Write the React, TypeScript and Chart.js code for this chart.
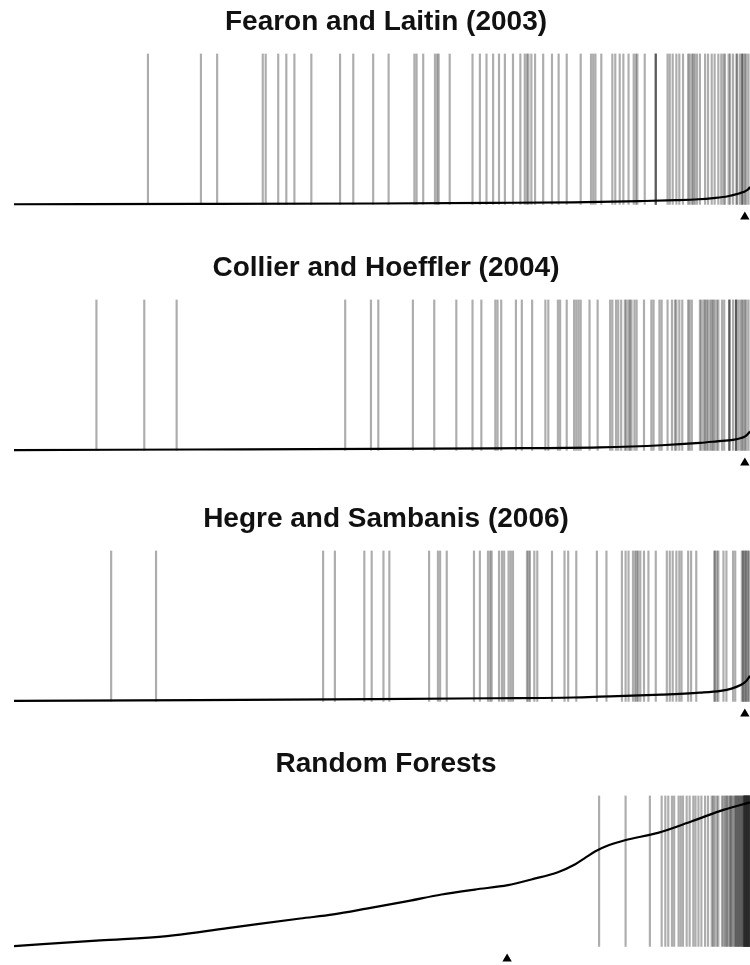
import React, { useEffect, useRef } from "react";
import { Chart, registerables } from "chart.js";

Chart.register(...registerables);

// Panel titles
const panelTitles = [
  "Fearon and Laitin (2003)",
  "Collier and Hoeffler (2004)",
  "Hegre and Sambanis (2006)",
  "Random Forests",
];

// Event (onset) positions, as percentile rank of sorted predicted probability (0-100)
const fearonEvents = [
  18.2, 25.4, 27.6, 33.8, 34.2, 35.9, 37.0, 38.1, 40.4, 44.3, 46.1, 48.8, 50.9, 54.4, 54.7, 55.6,
  57.2, 57.5, 57.7, 59.2, 62.3, 63.3, 64.2, 65.1, 65.9, 66.7, 67.8, 68.8, 69.4, 69.7, 69.9, 70.3,
  70.8, 71.9, 73.1, 74.0, 75.1, 77.0, 78.4, 78.7, 79.0, 79.8, 81.3, 81.7, 82.3, 82.8, 83.5, 84.2,
  84.5, 84.7, 85.7, 87.2, 87.2, 87.2, 88.8, 89.1, 89.5, 90.0, 90.4, 90.9, 91.6, 91.8, 92.1, 92.3,
  92.5, 92.8, 93.2, 93.9, 94.3, 94.8, 95.2, 95.7, 96.1, 96.4, 96.6, 97.1, 97.3, 97.7, 98.2, 98.2,
  98.6, 98.9, 98.9, 99.1, 99.3, 99.5, 99.8,
];
const collierEvents = [
  11.2, 17.7, 22.1, 45.0, 48.5, 49.5, 54.2, 57.1, 60.1, 62.3, 63.5, 65.4, 65.7, 66.2, 68.2, 69.0,
  70.4, 72.2, 72.6, 73.9, 74.2, 75.1, 76.1, 76.4, 76.7, 77.0, 78.2, 79.3, 81.0, 81.3, 81.8, 82.1,
  82.5, 83.0, 83.2, 83.5, 83.7, 83.9, 84.3, 84.6, 85.6, 86.6, 86.9, 87.7, 88.0, 88.8, 89.4, 89.8,
  90.0, 90.4, 90.8, 91.6, 91.8, 92.1, 93.2, 93.4, 93.7, 93.9, 94.1, 94.3, 94.6, 94.8, 95.0, 95.2,
  95.5, 95.7, 96.2, 96.5, 97.2, 97.2, 97.2, 97.7, 98.1, 98.1, 98.1, 98.4, 98.7, 98.9, 99.1, 99.3,
  99.5, 99.8,
];
const hegreEvents = [
  13.2, 19.3, 42.0, 43.6, 47.6, 48.6, 50.2, 51.0, 56.4, 57.6, 57.9, 58.8, 62.5, 63.3, 64.4, 64.7,
  64.9, 65.9, 66.3, 66.6, 67.2, 67.5, 67.8, 69.7, 69.9, 70.1, 70.7, 71.1, 73.1, 74.8, 75.3, 76.4,
  79.2, 80.5, 82.6, 83.1, 83.5, 84.1, 84.4, 84.6, 84.8, 85.1, 85.6, 86.2, 87.2, 88.7, 89.1, 89.5,
  90.0, 90.4, 90.7, 91.6, 92.0, 92.7, 95.2, 95.2, 95.5, 95.7, 96.4, 96.8, 97.7, 98.0, 98.9, 99.1,
  99.1, 99.3, 99.5, 99.5, 99.8, 99.8,
];
const forestEvents = [
  79.5, 83.1, 86.4, 88.0, 88.5, 88.9, 89.4, 89.7, 90.3, 90.6, 90.9, 91.4, 91.8, 92.3, 92.6, 93.0,
  93.4, 93.9, 94.3, 94.8, 95.0, 95.2, 95.5, 95.7, 96.2, 96.4, 96.6, 96.8, 96.9, 97.1, 97.3, 97.4,
  97.5, 97.7, 97.9, 98.0, 98.1, 98.2, 98.3, 98.4, 98.5, 98.6, 98.7, 98.8, 98.9, 99.0, 99.1, 99.15,
  99.2, 99.22, 99.25, 99.3, 99.32, 99.35, 99.4, 99.42, 99.45, 99.5, 99.52, 99.55, 99.6, 99.62,
  99.65, 99.7, 99.72, 99.75, 99.8, 99.82, 99.85, 99.9, 99.92, 99.95, 100,
];

// Sorted predicted probability curves: rank (percentile) and probability
const fearonCurveRank = [0, 25, 49, 65, 76, 85, 90, 93, 95, 97, 98.2, 99.1, 99.7, 100];
const fearonCurveProb = [0.001, 0.003, 0.006, 0.01, 0.014, 0.022, 0.028, 0.034, 0.042, 0.054, 0.068, 0.082, 0.097, 0.115];
const collierCurveRank = [0, 25, 49, 65, 79.6, 88, 93.2, 95.5, 97.7, 98.8, 99.4, 100];
const collierCurveProb = [0.002, 0.006, 0.01, 0.014, 0.02, 0.034, 0.05, 0.06, 0.07, 0.082, 0.095, 0.125];
const hegreCurveRank = [0, 25, 49, 65, 76, 79.6, 88, 93.2, 96, 97.5, 98.8, 99.5, 100];
const hegreCurveProb = [0.003, 0.008, 0.015, 0.021, 0.026, 0.031, 0.045, 0.058, 0.07, 0.085, 0.11, 0.135, 0.17];
const forestCurveRank = [0, 11.7, 20.8, 29.8, 38.9, 43.4, 47.9, 53.5, 58.1, 62.6, 67.1, 70.3, 73.9, 76.2, 77.6, 79.0, 80.7, 83.0, 87.5, 92.1, 96.5, 100];
const forestCurveProb = [0.002, 0.04, 0.068, 0.126, 0.185, 0.212, 0.25, 0.3, 0.344, 0.377, 0.406, 0.444, 0.492, 0.543, 0.587, 0.631, 0.669, 0.704, 0.753, 0.83, 0.907, 0.955];

// Marker (triangle) position for each panel, percentile rank
const markerRanks = [99.3, 99.3, 99.3, 67.0];

const panelTops = [0, 246, 497, 742];

type PanelProps = {
  title: string;
  events: number[];
  curveRank: number[];
  curveProb: number[];
  marker: number;
  top: number;
};

function Panel({ title, events, curveRank, curveProb, marker, top }: PanelProps) {
  const ref = useRef<HTMLCanvasElement | null>(null);
  useEffect(() => {
    if (!ref.current) return;
    const chart = new Chart(ref.current, {
      type: "bar",
      data: {
        datasets: [
          {
            type: "line",
            data: curveRank.map((r, i) => ({ x: r, y: curveProb[i] })),
            borderColor: "#000",
            borderWidth: 2.2,
            pointRadius: 0,
            cubicInterpolationMode: "monotone",
            order: 0,
          } as any,
          {
            type: "scatter",
            data: [{ x: marker, y: -0.083 }],
            pointStyle: "triangle",
            pointRadius: 5.4,
            backgroundColor: "#000",
            borderColor: "#000",
            borderWidth: 0,
            order: 0,
            clip: false,
          } as any,
          {
            type: "bar",
            data: events.map((e) => ({ x: e, y: 1 })),
            backgroundColor: "rgba(40,40,40,0.38)",
            borderWidth: 0,
            barThickness: 1.5,
            grouped: false,
            order: 1,
          } as any,
        ],
      },
      options: {
        animation: false,
        responsive: false,
        layout: { autoPadding: false, padding: { left: 14, right: 0, top: 0, bottom: 0 } },
        scales: {
          x: { type: "linear", min: 0, max: 101.09, display: false, offset: false },
          y: { type: "linear", min: -0.13, max: 1, display: false },
        },
        plugins: {
          legend: { display: false },
          tooltip: { enabled: false },
          title: {
            display: true,
            text: title,
            color: "#111",
            font: { family: '"Liberation Sans", Arial, sans-serif', size: 28, weight: "bold" },
            padding: { top: 5, bottom: 15 },
          },
        },
      },
    } as any);
    return () => chart.destroy();
  }, []);
  return (
    <canvas
      ref={ref}
      width={758}
      height={224}
      style={{ position: "absolute", left: 0, top, width: 758, height: 224, display: "block" }}
    />
  );
}

export default function App() {
  const events = [fearonEvents, collierEvents, hegreEvents, forestEvents];
  const ranks = [fearonCurveRank, collierCurveRank, hegreCurveRank, forestCurveRank];
  const probs = [fearonCurveProb, collierCurveProb, hegreCurveProb, forestCurveProb];
  return (
    <div
      style={{
        position: "absolute",
        left: 0,
        top: 0,
        width: 750,
        height: 965,
        overflow: "hidden",
        background: "#fff",
      }}
    >
      {panelTitles.map((t, i) => (
        <Panel
          key={t}
          title={t}
          events={events[i]}
          curveRank={ranks[i]}
          curveProb={probs[i]}
          marker={markerRanks[i]}
          top={panelTops[i]}
        />
      ))}
    </div>
  );
}
